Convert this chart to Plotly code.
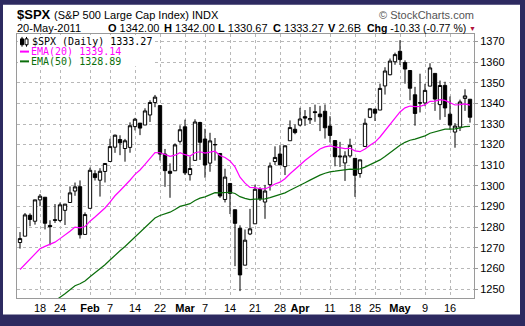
import plotly.graph_objects as go

# ---------------- data ----------------
dates = [
    "2011-01-11", "2011-01-12", "2011-01-13", "2011-01-14",
    "2011-01-18", "2011-01-19", "2011-01-20", "2011-01-21",
    "2011-01-24", "2011-01-25", "2011-01-26", "2011-01-27", "2011-01-28",
    "2011-01-31", "2011-02-01", "2011-02-02", "2011-02-03", "2011-02-04",
    "2011-02-07", "2011-02-08", "2011-02-09", "2011-02-10", "2011-02-11",
    "2011-02-14", "2011-02-15", "2011-02-16", "2011-02-17", "2011-02-18",
    "2011-02-22", "2011-02-23", "2011-02-24", "2011-02-25",
    "2011-02-28", "2011-03-01", "2011-03-02", "2011-03-03", "2011-03-04",
    "2011-03-07", "2011-03-08", "2011-03-09", "2011-03-10", "2011-03-11",
    "2011-03-14", "2011-03-15", "2011-03-16", "2011-03-17", "2011-03-18",
    "2011-03-21", "2011-03-22", "2011-03-23", "2011-03-24", "2011-03-25",
    "2011-03-28", "2011-03-29", "2011-03-30", "2011-03-31", "2011-04-01",
    "2011-04-04", "2011-04-05", "2011-04-06", "2011-04-07", "2011-04-08",
    "2011-04-11", "2011-04-12", "2011-04-13", "2011-04-14", "2011-04-15",
    "2011-04-18", "2011-04-19", "2011-04-20", "2011-04-21",
    "2011-04-25", "2011-04-26", "2011-04-27", "2011-04-28", "2011-04-29",
    "2011-05-02", "2011-05-03", "2011-05-04", "2011-05-05", "2011-05-06",
    "2011-05-09", "2011-05-10", "2011-05-11", "2011-05-12", "2011-05-13",
    "2011-05-16", "2011-05-17", "2011-05-18", "2011-05-19", "2011-05-20",
]

open_ = [
    1272.58, 1275.65, 1285.78, 1282.90,
    1293.22, 1294.52, 1280.85, 1283.63,
    1283.29, 1288.17, 1291.97, 1297.51, 1299.63,
    1276.50, 1289.14, 1305.91, 1302.77, 1307.01,
    1311.85, 1318.76, 1322.48, 1318.13, 1318.66,
    1328.73, 1330.43, 1329.51, 1334.37, 1340.38,
    1338.91, 1315.44, 1307.09, 1307.34,
    1321.61, 1328.64, 1305.47, 1312.37, 1330.73,
    1322.72, 1311.05, 1319.92, 1315.72, 1293.43,
    1301.19, 1288.46, 1279.46, 1261.61, 1276.71,
    1281.65, 1298.29, 1292.19, 1300.61, 1311.80,
    1315.45, 1309.37, 1321.89, 1327.44, 1329.48,
    1333.56, 1332.03, 1335.94, 1334.82, 1336.16,
    1329.01, 1321.96, 1314.03, 1311.13, 1314.54,
    1313.35, 1305.99, 1319.12, 1333.23,
    1337.14, 1336.75, 1348.43, 1353.86, 1360.14,
    1365.21, 1359.76, 1355.90, 1344.16, 1340.24,
    1340.20, 1348.34, 1354.51, 1339.39, 1348.69,
    1334.77, 1326.10, 1328.54, 1342.40, 1342.00,
]

high = [
    1277.63, 1286.87, 1286.70, 1293.24,
    1296.06, 1294.60, 1283.35, 1291.21,
    1291.93, 1291.26, 1299.74, 1301.63, 1302.67,
    1287.17, 1308.86, 1307.61, 1308.60, 1311.00,
    1322.85, 1324.87, 1324.54, 1322.78, 1330.79,
    1332.96, 1330.43, 1337.61, 1341.50, 1344.07,
    1338.91, 1317.91, 1310.91, 1320.61,
    1329.38, 1332.09, 1314.19, 1332.28, 1331.08,
    1327.68, 1325.74, 1323.21, 1315.72, 1308.35,
    1301.19, 1288.46, 1280.91, 1278.88, 1288.88,
    1300.58, 1299.35, 1300.51, 1311.34, 1319.18,
    1319.74, 1319.45, 1331.74, 1329.77, 1337.85,
    1336.74, 1338.21, 1339.38, 1338.80, 1339.46,
    1333.77, 1321.96, 1321.35, 1316.79, 1322.88,
    1313.35, 1312.70, 1332.66, 1337.49,
    1337.55, 1349.55, 1357.49, 1361.71, 1364.56,
    1370.58, 1360.84, 1355.90, 1348.00, 1354.36,
    1349.44, 1359.44, 1354.51, 1351.05, 1350.47,
    1343.33, 1330.42, 1341.82, 1346.82, 1342.00,
]

low = [
    1269.62, 1275.65, 1280.47, 1281.24,
    1290.16, 1278.92, 1271.26, 1282.07,
    1282.47, 1281.07, 1291.97, 1295.21, 1274.49,
    1276.50, 1289.14, 1302.62, 1294.83, 1301.67,
    1311.85, 1316.03, 1314.89, 1311.74, 1316.08,
    1326.90, 1324.61, 1329.51, 1331.00, 1338.12,
    1312.33, 1299.55, 1294.26, 1307.34,
    1320.55, 1305.34, 1302.58, 1312.37, 1312.59,
    1303.99, 1306.86, 1312.27, 1294.21, 1291.99,
    1286.37, 1261.12, 1249.05, 1261.61, 1276.18,
    1281.65, 1292.70, 1284.05, 1297.74, 1310.15,
    1310.19, 1305.26, 1321.89, 1325.03, 1328.89,
    1329.10, 1330.03, 1331.09, 1326.56, 1322.94,
    1321.06, 1309.51, 1309.19, 1302.42, 1313.68,
    1294.70, 1303.97, 1319.12, 1332.83,
    1331.47, 1336.75, 1344.25, 1353.60, 1358.69,
    1358.59, 1349.52, 1341.50, 1329.17, 1335.58,
    1338.64, 1348.34, 1336.36, 1332.03, 1333.36,
    1327.32, 1318.51, 1326.59, 1336.36, 1330.67,
]

close = [
    1274.48, 1285.96, 1283.76, 1293.24,
    1295.02, 1281.92, 1280.26, 1283.35,
    1290.84, 1291.18, 1296.63, 1299.54, 1276.34,
    1286.12, 1307.59, 1304.03, 1307.10, 1310.87,
    1319.05, 1324.57, 1320.88, 1321.87, 1329.15,
    1332.32, 1328.01, 1336.32, 1340.43, 1343.01,
    1315.44, 1307.40, 1306.10, 1319.88,
    1327.22, 1306.33, 1308.44, 1330.97, 1321.15,
    1310.13, 1321.82, 1320.02, 1295.11, 1304.28,
    1296.39, 1281.87, 1256.88, 1273.72, 1279.21,
    1298.38, 1293.77, 1297.54, 1309.66, 1313.80,
    1310.19, 1319.44, 1328.26, 1325.83, 1332.41,
    1332.87, 1332.63, 1335.54, 1333.51, 1328.17,
    1324.46, 1314.16, 1314.41, 1314.52, 1319.68,
    1305.14, 1312.62, 1330.36, 1337.38,
    1335.25, 1347.24, 1355.66, 1360.48, 1363.61,
    1361.22, 1356.62, 1347.32, 1335.10, 1340.20,
    1346.29, 1357.16, 1342.08, 1348.65, 1337.77,
    1329.47, 1328.98, 1340.68, 1343.60, 1333.27,
]

ema20 = [
    1259.50, 1262.02, 1264.09, 1266.87,
    1269.55, 1270.73, 1271.64, 1272.75,
    1274.47, 1276.06, 1278.02, 1280.07, 1279.71,
    1280.32, 1282.92, 1284.93, 1287.04, 1289.31,
    1292.14, 1295.23, 1297.67, 1299.97, 1302.75,
    1305.57, 1307.71, 1310.43, 1313.29, 1316.12,
    1316.06, 1315.24, 1314.37, 1314.89,
    1316.06, 1315.13, 1314.49, 1316.06, 1316.54,
    1315.93, 1316.49, 1316.83, 1314.76, 1313.76,
    1312.11, 1309.23, 1304.25, 1301.34, 1299.23,
    1299.15, 1298.64, 1298.54, 1299.60, 1300.95,
    1301.83, 1303.51, 1305.87, 1307.77, 1310.12,
    1312.29, 1314.23, 1316.26, 1317.90, 1318.88,
    1319.41, 1318.91, 1318.48, 1318.10, 1318.25,
    1317.00, 1316.58, 1317.89, 1319.75,
    1321.23, 1323.71, 1326.75, 1329.96, 1333.16,
    1335.83, 1337.81, 1338.72, 1338.38, 1338.55,
    1339.29, 1340.99, 1341.09, 1341.81, 1341.43,
    1340.29, 1339.21, 1339.35, 1339.75, 1339.14,
]

ema50 = [
    1230.63, 1232.80, 1234.80, 1237.09,
    1239.36, 1241.03, 1242.57, 1244.17,
    1246.00, 1247.77, 1249.69, 1251.65, 1252.62,
    1253.93, 1256.03, 1257.91, 1259.84, 1261.84,
    1264.08, 1266.45, 1268.58, 1270.67, 1272.96,
    1275.29, 1277.36, 1279.67, 1282.05, 1284.44,
    1285.66, 1286.51, 1287.28, 1288.56,
    1290.08, 1290.72, 1291.41, 1292.96, 1294.07,
    1294.70, 1295.76, 1296.71, 1296.65, 1296.95,
    1296.93, 1296.34, 1294.79, 1293.96, 1293.38,
    1293.58, 1293.59, 1293.74, 1294.36, 1295.12,
    1295.71, 1296.64, 1297.88, 1298.98, 1300.29,
    1301.57, 1302.79, 1304.07, 1305.22, 1306.12,
    1306.84, 1307.13, 1307.42, 1307.70, 1308.17,
    1308.05, 1308.23, 1309.10, 1310.21,
    1311.19, 1312.60, 1314.29, 1316.10, 1317.96,
    1319.66, 1321.11, 1322.14, 1322.65, 1323.34,
    1324.24, 1325.53, 1326.18, 1327.06, 1327.48,
    1327.56, 1327.62, 1328.13, 1328.74, 1328.89,
]

tick_dates = [
    "2011-01-18", "2011-01-24", "2011-02-01", "2011-02-07", "2011-02-14",
    "2011-02-22", "2011-03-01", "2011-03-07", "2011-03-14", "2011-03-21",
    "2011-03-28", "2011-04-01", "2011-04-11", "2011-04-18", "2011-04-25",
    "2011-05-02", "2011-05-09", "2011-05-16",
]
tick_text = [
    "18", "24", "<b>Feb</b>", "7", "14", "22", "<b>Mar</b>", "7", "14", "21",
    "28", "<b>Apr</b>", "11", "18", "25", "<b>May</b>", "9", "16",
]
y_ticks = [1250, 1260, 1270, 1280, 1290, 1300, 1310, 1320, 1330, 1340, 1350, 1360, 1370]

# ---------------- layout geometry ----------------
W, H = 525, 326
PL, PR, PT, PB = 17, 474, 34, 304


def px(x):
    return (x - PL) / (PR - PL)


def py(y):
    return (PB - y) / (PB - PT)


FONT = "Liberation Sans, Arial, sans-serif"
MONO = "DejaVu Sans Mono, monospace"

fig = go.Figure()

fig.add_trace(go.Scatter(x=dates, y=ema50, mode="lines",
                         line=dict(color="#0b6e0b", width=1.2), hoverinfo="skip"))
fig.add_trace(go.Scatter(x=dates, y=ema20, mode="lines",
                         line=dict(color="#ff00ff", width=1.2), hoverinfo="skip"))
fig.add_trace(go.Candlestick(
    x=dates, open=open_, high=high, low=low, close=close,
    increasing=dict(line=dict(color="black", width=1), fillcolor="white"),
    decreasing=dict(line=dict(color="black", width=1), fillcolor="black"),
    whiskerwidth=0,
))

fig.update_layout(
    width=W, height=H,
    margin=dict(l=PL, r=W - PR, t=PT, b=H - PB, pad=0),
    paper_bgcolor="#2d2a60",
    plot_bgcolor="white",
    showlegend=False,
    boxgap=0.05,
    font=dict(family=FONT, size=11, color="black"),
)

fig.update_xaxes(
    type="category",
    range=[-0.6, 90.8],
    rangeslider=dict(visible=False),
    tickmode="array", tickvals=tick_dates, ticktext=tick_text,
    tickfont=dict(family=FONT, size=11, color="black"),
    showgrid=True, gridcolor="#b8b8b8", griddash="dot", gridwidth=1,
    showline=True, linecolor="#9a9a9a", linewidth=1, mirror=True,
    ticks="", tickangle=0,
)
fig.update_yaxes(
    side="right",
    range=[1245.7, 1373.6],
    tickmode="array", tickvals=y_ticks,
    tickfont=dict(family=FONT, size=11, color="black"),
    showgrid=True, gridcolor="#b8b8b8", griddash="dot", gridwidth=1,
    showline=True, linecolor="#9a9a9a", linewidth=1, mirror=True,
    ticks="outside", ticklen=3, tickcolor="#9a9a9a",
    zeroline=False,
)

shapes = [
    # white card inside the dark frame
    dict(type="rect", xref="paper", yref="paper",
         x0=px(3), x1=px(520), y0=py(321), y1=py(4),
         fillcolor="white", line=dict(width=0), layer="below"),
    # white backdrop behind the in-plot legend
    dict(type="rect", xref="paper", yref="paper",
         x0=px(18), x1=px(152), y0=py(67), y1=py(35),
         fillcolor="white", line=dict(width=0)),
    # legend icons
    dict(type="line", xref="paper", yref="paper",
         x0=px(20), x1=px(29), y0=py(52), y1=py(52),
         line=dict(color="#ff00ff", width=2)),
    dict(type="line", xref="paper", yref="paper",
         x0=px(20), x1=px(29), y0=py(62), y1=py(62),
         line=dict(color="#0b6e0b", width=2)),
    dict(type="line", xref="paper", yref="paper",
         x0=px(22), x1=px(22), y0=py(47), y1=py(37),
         line=dict(color="black", width=1)),
    dict(type="rect", xref="paper", yref="paper",
         x0=px(20.5), x1=px(23.5), y0=py(45), y1=py(39),
         fillcolor="black", line=dict(color="black", width=1)),
    dict(type="line", xref="paper", yref="paper",
         x0=px(26.5), x1=px(26.5), y0=py(47), y1=py(37),
         line=dict(color="black", width=1)),
    dict(type="rect", xref="paper", yref="paper",
         x0=px(25), x1=px(28), y0=py(45), y1=py(39),
         fillcolor="white", line=dict(color="black", width=1)),
]
fig.update_layout(shapes=shapes)

ann = []


def text(x, y, s, size=11, color="black", family=FONT, xanchor="left"):
    ann.append(dict(xref="paper", yref="paper", x=px(x), y=py(y), text=s,
                    showarrow=False, xanchor=xanchor, yanchor="middle",
                    font=dict(family=family, size=size, color=color),
                    borderpad=0))


text(16, 14, "<b>$SPX</b>", size=13)
text(53, 15, "(S&P 500 Large Cap Index) INDX", size=11)
text(475, 15, "© StockCharts.com", size=11, color="#555555", xanchor="right")
text(16, 28, "20-May-2011", size=11)
text(107, 28, "<b>O</b> 1342.00", size=11)
text(163, 28, "<b>H</b> 1342.00", size=11)
text(217, 28, "<b>L</b> 1330.67", size=11)
text(272, 28, "<b>C</b> 1333.27", size=11)
text(327, 28, "<b>V</b> 2.6B", size=11)
text(366, 28, "<b>Chg</b> -10.33 (-0.77 %)", size=10.5)
text(477, 28, "▼", size=7, color="#b0103a", xanchor="right")

text(31, 42, "$SPX (Daily) 1333.27", size=10, family=MONO)
text(30, 52, "EMA(20) 1339.14", size=10, color="#ff00ff", family=MONO)
text(30, 62, "EMA(50) 1328.89", size=10, color="#0b6e0b", family=MONO)

fig.update_layout(annotations=ann)

fig.write_html("out.html")
